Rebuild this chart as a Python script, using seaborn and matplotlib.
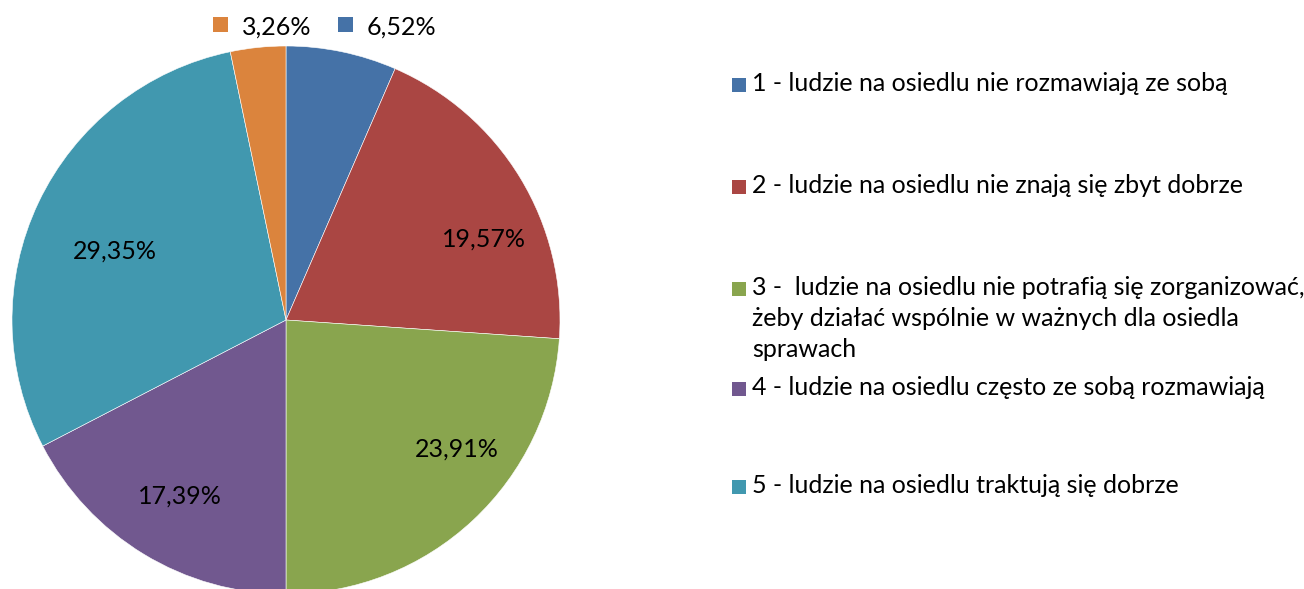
# coding: utf-8
import matplotlib
matplotlib.use('Agg')
from matplotlib import pyplot as plt
from matplotlib.patches import Rectangle
import seaborn as sns

# dane
shares = [6.52, 19.57, 23.91, 17.39, 29.35, 3.26]
pct_labels = ['6,52%', '19,57%', '23,91%', '17,39%', '29,35%', '3,26%']
legend_labels = [
    ['1 - ludzie na osiedlu nie rozmawiają ze sobą'],
    ['2 - ludzie na osiedlu nie znają się zbyt dobrze'],
    ['3 -  ludzie na osiedlu nie potrafią się zorganizować,',
     'żeby działać wspólnie w ważnych dla osiedla',
     'sprawach'],
    ['4 - ludzie na osiedlu często ze sobą rozmawiają'],
    ['5 - ludzie na osiedlu traktują się dobrze'],
]
colors = ['#4572A7', '#AA4643', '#89A54E', '#71588F', '#4198AF', '#DB843D']

sns.set_theme(style='white')
plt.rcParams['font.family'] = ['Lato', 'DejaVu Sans']
FS = 18

W, H = 1304, 589
fig = plt.figure(figsize=(W / 100, H / 100), dpi=100)

# pie: center (286, 320) px, radius 274 px
cx, cy, r = 286, 320, 274
ax = fig.add_axes([(cx - r) / W, (H - cy - r) / H, 2 * r / W, 2 * r / H])
ax.pie(shares, colors=sns.color_palette(colors), startangle=90, counterclock=False,
       radius=1, wedgeprops=dict(edgecolor='white', linewidth=0.4), frame=False)
ax.set_xlim(-1, 1)
ax.set_ylim(-1, 1)
ax.set_aspect('auto')
ax.axis('off')

# etykiety wewnątrz wycinków (pozycje jak w oryginale)
inner_pos = {1: (0.723, 0.296), 2: (0.624, -0.471), 3: (-0.387, -0.642), 4: (-0.624, 0.252)}
for i, (x, y) in inner_pos.items():
    ax.text(x, y, pct_labels[i], ha='center', va='center', fontsize=FS, color='black')


def px(x, y):
    return x / W, 1 - y / H


# małe wycinki - etykiety nad wykresem z kluczem
for i, (sx, tx) in [(5, (213, 242)), (0, (338, 367))]:
    fig.patches.append(Rectangle(px(sx, 32), 15 / W, 15 / H, transform=fig.transFigure,
                                 facecolor=colors[i], edgecolor='none'))
    fig.text(*px(tx, 35), pct_labels[i], ha='left', va='baseline', fontsize=FS, color='black')

# legenda
legend_base = [91, 193, 295, 395, 493]
for i, (lines, y) in enumerate(zip(legend_labels, legend_base)):
    fig.patches.append(Rectangle(px(732, y + 1), 14 / W, 14 / H, transform=fig.transFigure,
                                 facecolor=colors[i], edgecolor='none'))
    for k, line in enumerate(lines):
        fig.text(*px(752, y + 31 * k), line, ha='left', va='baseline', fontsize=FS,
                 color='black')

fig.savefig('out.png', dpi=100, facecolor='white')
